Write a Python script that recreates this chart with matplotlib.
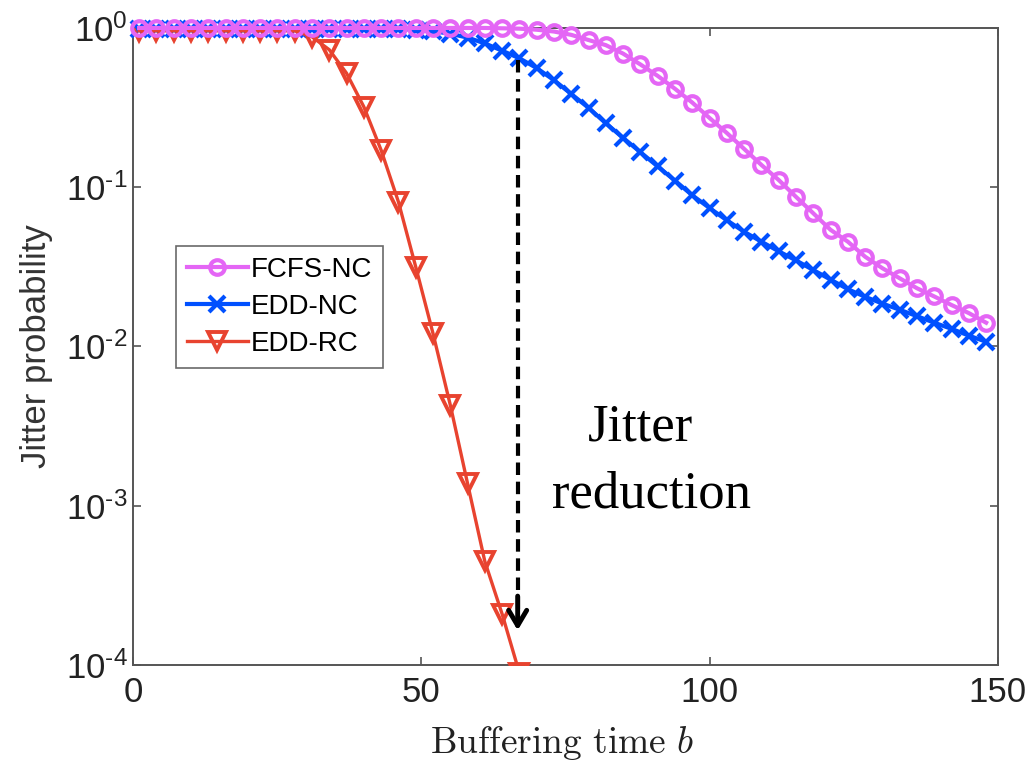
import numpy as np
import matplotlib
matplotlib.use('Agg')
from matplotlib import pyplot as plt
from matplotlib.ticker import FixedLocator, FixedFormatter, NullLocator

plt.rcParams['font.family'] = ['Liberation Sans', 'DejaVu Sans']
plt.rcParams['mathtext.fontset'] = 'custom'
plt.rcParams['mathtext.rm'] = 'Liberation Sans'
plt.rcParams['mathtext.it'] = 'Liberation Sans:italic'

# buffering time grid (markers every 3 units)
b = np.arange(1, 149, 3)
b_rc = np.arange(1, 68, 3)

fcfs_nc = [1.0] * 21 + [0.995, 0.99, 0.975, 0.95, 0.905, 0.84, 0.78, 0.69, 0.59, 0.50,
                       0.415, 0.34, 0.272, 0.219, 0.174, 0.138, 0.111, 0.087, 0.0686, 0.054,
                       0.0455, 0.0366, 0.031, 0.0268, 0.0232, 0.0206, 0.0182, 0.0162, 0.0141]
edd_nc = [0.99] * 15 + [0.985, 0.975, 0.955, 0.92, 0.87, 0.80, 0.72, 0.645, 0.56, 0.47,
                        0.385, 0.315, 0.252, 0.204, 0.166, 0.135, 0.11, 0.089, 0.074, 0.062,
                        0.0525, 0.0455, 0.0396, 0.0347, 0.0302, 0.0263, 0.0229, 0.0205, 0.0186,
                        0.017, 0.0155, 0.0141, 0.0129, 0.0117, 0.0107]
edd_rc = [0.96] * 10 + [0.88, 0.73, 0.52, 0.32, 0.171, 0.081, 0.0317, 0.0121, 0.0043,
                        0.00138, 0.000447, 0.000209, 0.0000891]

yticks = [1e-4, 1e-3, 1e-2, 1e-1, 1]
ytick_labels = [r'$\mathregular{10^{\text{-}4}}$', r'$\mathregular{10^{\text{-}3}}$',
                r'$\mathregular{10^{\text{-}2}}$', r'$\mathregular{10^{\text{-}1}}$',
                r'$\mathregular{10^{0}}$']

pink = '#E466F5'
blue = '#0050FF'
red = '#E8432F'

fig = plt.figure(figsize=(10.28, 7.64), dpi=100)
ax = fig.add_axes([0.1297, 0.1296, 0.8408, 0.8338])

ax.plot(b, fcfs_nc, color=pink, lw=3, marker='o', ms=10.5, mfc='none', mew=3,
        label='FCFS-NC', zorder=4, clip_on=False)
ax.plot(b, edd_nc, color=blue, lw=3, marker='x', ms=12, mew=3,
        label='EDD-NC', zorder=3, clip_on=False)
ax.plot(b_rc, edd_rc, color=red, lw=2.4, marker='v', ms=13, mfc='none', mew=2.8,
        label='EDD-RC', zorder=3.5)

ax.set_yscale('log')
ax.set_xlim(0, 150)
ax.set_ylim(1e-4, 1)
ax.set_xticks([0, 50, 100, 150])
ax.yaxis.set_major_locator(FixedLocator(yticks))
ax.yaxis.set_major_formatter(FixedFormatter(ytick_labels))
ax.yaxis.set_minor_locator(NullLocator())

for s in ax.spines.values():
    s.set_color('#555555')
    s.set_linewidth(1.4)
ax.tick_params(which='both', direction='in', top=True, right=True, length=6,
               width=1.2, color='#555555', labelsize=25, labelcolor='#222222')
ax.tick_params(axis='x', pad=8)
ax.tick_params(axis='y', pad=4)

ax.set_ylabel('Jitter probability', fontsize=25, color='#333333')
ax.yaxis.set_label_coords(-0.093, 0.5)
ax.set_xlabel(r'$\mathrm{Buffering\ time}\ b$', fontsize=27, math_fontfamily='cm',
              color='#222222')
ax.xaxis.set_label_coords(0.496, -0.092)

leg = ax.legend(loc='upper left', bbox_to_anchor=(0.049, 0.658), fontsize=20,
                frameon=True, fancybox=False, edgecolor='#444444', handlelength=2.2,
                handletextpad=0.1, borderpad=0.4, labelspacing=0.4, borderaxespad=0)
leg.get_frame().set_linewidth(1.2)

# dashed arrow for jitter reduction
ax.plot([66.7, 66.7], [0.63, 10 ** -3.7], color='black', lw=3, ls=(0, (3, 1.6)), zorder=5)
ax.annotate('', xy=(66.7, 10 ** -3.8), xytext=(66.7, 10 ** -3.55),
            arrowprops=dict(arrowstyle='->,head_length=1.1,head_width=0.65', lw=3.5,
                            color='black'), zorder=5)

ax.text(0.587, 0.353, 'Jitter', transform=ax.transAxes, ha='center', va='baseline',
        fontsize=38, family='Liberation Serif')
ax.text(0.599, 0.247, 'reduction', transform=ax.transAxes, ha='center', va='baseline',
        fontsize=38, family='Liberation Serif')

plt.savefig('out.png', dpi=100)
